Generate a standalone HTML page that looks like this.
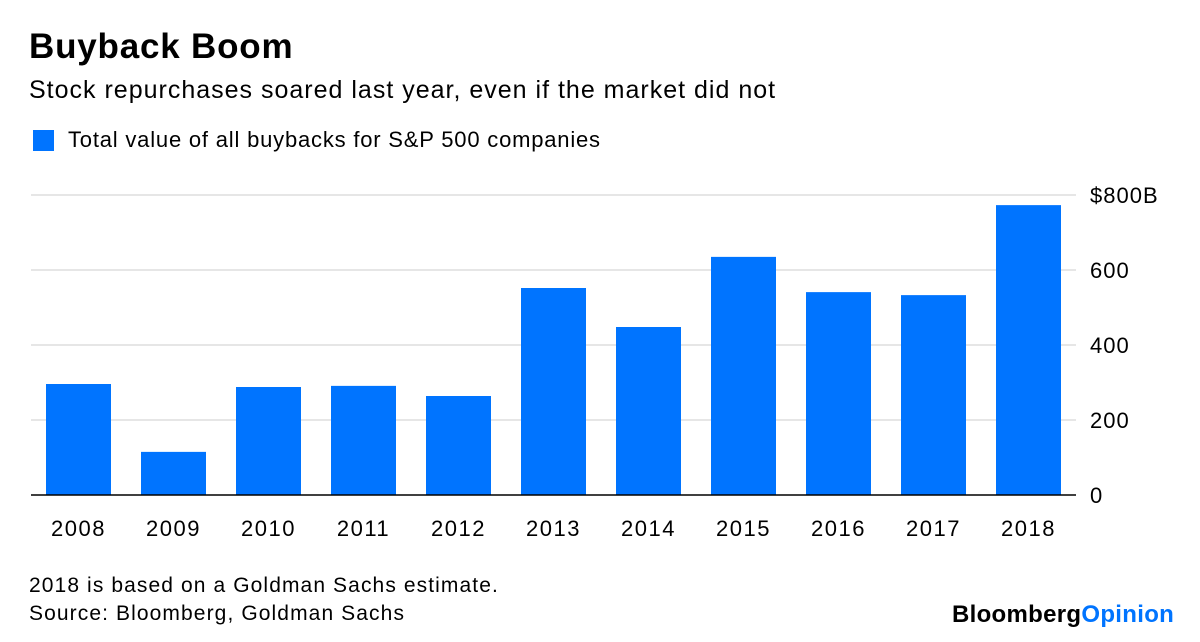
<!DOCTYPE html>
<html><head><meta charset="utf-8"><style>
body{margin:0;width:1200px;height:642px;background:#fff;font-family:"Liberation Sans",sans-serif;overflow:hidden;position:relative}
.t{position:absolute;white-space:nowrap;color:#000}
</style></head><body>
<div class="t" style="left:29px;top:27px;font-size:35px;font-weight:bold;letter-spacing:0.8px">Buyback Boom</div>
<div class="t" style="left:29px;top:76px;font-size:25px;letter-spacing:1px">Stock repurchases soared last year, even if the market did not</div>
<div style="position:absolute;left:33px;top:130px;width:21px;height:21px;background:#0074ff"></div>
<div class="t" style="left:68px;top:127px;font-size:22px;letter-spacing:0.8px">Total value of all buybacks for S&amp;P 500 companies</div>
<svg id="chart" width="1200" height="642" style="position:absolute;left:0;top:0"></svg>
<div class="t" style="left:29px;top:574px;font-size:21px;letter-spacing:1.1px">2018 is based on a Goldman Sachs estimate.</div>
<div class="t" style="left:29px;top:602px;font-size:21px;letter-spacing:1.1px">Source: Bloomberg, Goldman Sachs</div>
<div class="t" style="left:952px;top:601px;font-size:24px;font-weight:bold;letter-spacing:0.3px">Bloomberg<span style="color:#0074ff">Opinion</span></div>
<script>
const categories=["2008","2009","2010","2011","2012","2013","2014","2015","2016","2017","2018"];
const values=[296,115,288,291,264,552,448,635,541,533,773];
const tickValues=[0,200,400,600,800];
const tickLabels=["0","200","400","600","$800B"];
const NS="http://www.w3.org/2000/svg";
const svg=document.getElementById("chart");
const x0=31,band=95,barW=65,yBase=495,yScale=300/800;
const xPos=i=>x0+i*band+(band-barW)/2;
const yPos=v=>yBase-v*yScale;
function mk(tag,attrs){const e=document.createElementNS(NS,tag);for(const k in attrs)e.setAttribute(k,attrs[k]);svg.appendChild(e);return e;}
tickValues.forEach((v,i)=>{
  if(v>0){const g=mk("line",{x1:x0,x2:1076,y1:yPos(v),y2:yPos(v),stroke:"#e6e6e6","stroke-width":2});
  
  }
  const t=mk("text",{x:1090,y:yPos(v)+8,"font-size":22,"letter-spacing":1,"font-family":"Liberation Sans, sans-serif",fill:"#000"});
  t.textContent=tickLabels[i];
  
  
});
values.forEach((v,i)=>{
  const r=mk("rect",{x:xPos(i),y:yPos(v),width:barW,height:v*yScale,fill:"#0074ff"});
  
  
  const t=mk("text",{x:xPos(i)+barW/2,y:536,"text-anchor":"middle","font-size":22,"letter-spacing":1.5,"font-family":"Liberation Sans, sans-serif",fill:"#000"});
  t.textContent=categories[i];
  
  
});
const ax=mk("line",{x1:x0,x2:1076,y1:yBase,y2:yBase,stroke:"#000","stroke-width":1.5});


</script>
</body></html>
